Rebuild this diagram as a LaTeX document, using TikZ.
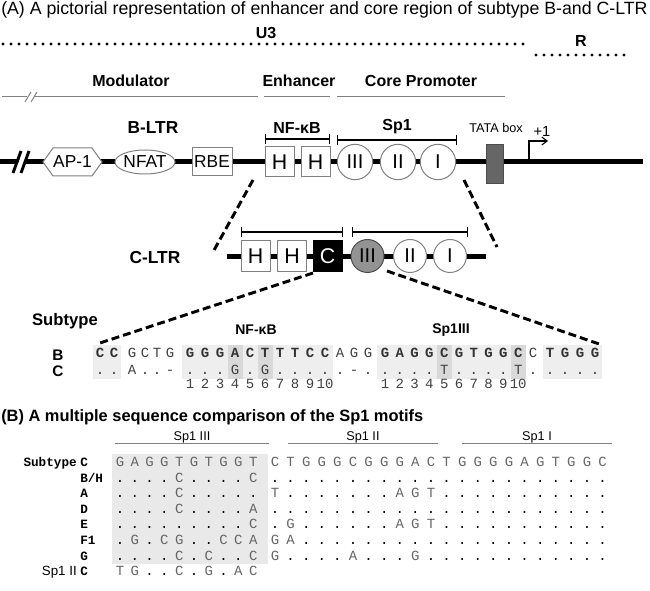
\documentclass[tikz,border=0pt]{standalone}
\usepackage{fontspec}
\setmainfont{Liberation Sans}
\newfontfamily\monofam{Liberation Mono}
\usetikzlibrary{arrows.meta}
\newcommand{\fsz}[1]{\fontsize{#1}{#1}\selectfont}
\def\dotchar{.}
\begin{document}
\begin{tikzpicture}[x=0.75pt,y=-0.75pt,
  every node/.style={inner sep=0pt},
  head/.style={font=\fsz{12}\bfseries},
  outl/.style={draw=gray, line width=0.75pt, fill=white},
  hbox/.style={outl, minimum width=21.75pt, minimum height=22.5pt, font=\fsz{16}},
  sponec/.style={outl, circle, minimum size=26.5pt, font=\fsz{15}},
  dline/.style={line width=2.2pt, dash pattern=on 6pt off 3pt},
  dotl/.style={line width=2.5pt, line cap=round, dash pattern=on 0pt off 6pt},
  brk/.style={line width=0.9pt, {Bar[width=7pt]}-{Bar[width=7pt]}},
  gline/.style={draw=gray, line width=0.75pt},
  sqb/.style={font=\monofam\fsz{10.5}\bfseries, anchor=base, text=black!80},
  sqr/.style={font=\monofam\fsz{10.5}, anchor=base, text=black!75},
  sqB/.style={font=\monofam\fsz{10.5}, anchor=base},
  rlab/.style={font=\monofam\fsz{9.5}\bfseries, anchor=base west},
]
\useasboundingbox (0,0) rectangle (650,591);

% ---------- (A) header ----------
\node[font=\fsz{13.3}, anchor=base west] (titA) at (1,15) {(A) A pictorial representation of enhancer and core region of subtype B-and C-LTR};
\node[head] (u3) at (266,33) {U3};
\node[head] (rr) at (581,41) {R};
\coordinate (d1a) at (3,44); \coordinate (d1b) at (530,44);
\draw[dotl] (d1a) -- (d1b);
\coordinate (d2a) at (536,55); \coordinate (d2b) at (628,55);
\draw[dotl] (d2a) -- (d2b);

\node[head] (mod) at (131,81) {Modulator};
\node[head] (enh) at (299,81) {Enhancer};
\node[head] (core) at (421,81) {Core Promoter};
\draw[gline] (2,97) -- (27,97);
\draw[gline] (35,97) -- (258,97);
\draw[gline] (25,102) -- (31,92);
\draw[gline] (31,102) -- (37,92);
\draw[gline] (264,97) -- (330,97);
\draw[gline] (337,97) -- (505,97);

% ---------- B-LTR ----------
\coordinate (bl0) at (0,162); \coordinate (bl1) at (643,162);
\draw[line width=3.75pt] (bl0) -- (bl1);
\fill[white] (15,172) -- (22,172) -- (29,152) -- (22,152) -- cycle;
\draw[line width=2.2pt] (13,173) -- (21,151);
\draw[line width=2.2pt] (21,173) -- (29,151);

\draw[outl] (43,162) -- (53,148) -- (92,148) -- (102,162) -- (92,176) -- (53,176) -- cycle;
\node[font=\fsz{13}] (ap1) at (72.5,162) {AP-1};
\draw[outl] (145,162) ellipse [x radius=30, y radius=12];
\node[font=\fsz{13}] (nfat) at (145,162) {NFAT};
\node[outl, minimum width=30pt, minimum height=21pt, font=\fsz{13}] (rbe) at (212,162) {RBE};
\node[hbox] (h1) at (279.5,162) {H};
\node[hbox] (h2) at (315.5,162) {H};
\node[sponec] (c3) at (355,162) {III};
\node[sponec] (c2) at (398,162) {II};
\node[sponec] (c1) at (438,162) {I};
\node[draw=black!70, fill=black!60, minimum width=12.75pt, minimum height=29.25pt] (tata) at (494.5,163.5) {};
\coordinate (tss) at (529,162); \coordinate (tsse) at (548,141);
\draw[line width=0.8pt, -{Straight Barb[length=4pt,width=6pt]}] (tss) |- (tsse);

\node[font=\fsz{13}\bfseries] (bltr) at (153,128) {B-LTR};
\node[head] (nfkb) at (297,128) {NF-κB};
\node[head] (sp1) at (397,127) {Sp1};
\node[font=\fsz{9.5}] (tatal) at (496,128) {TATA box};
\node[font=\fsz{11}] (plus1) at (542,131) {+1};
\coordinate (bra) at (265,139); \coordinate (brb) at (330,139);
\draw[brk] (bra) -- (brb);
\coordinate (brc) at (337,140); \coordinate (brd) at (457,140);
\draw[brk] (brc) -- (brd);

% ---------- C-LTR ----------
\coordinate (cl0) at (227,257); \coordinate (cl1) at (486,257);
\draw[line width=3.75pt] (cl0) -- (cl1);
\node[hbox, minimum height=23.25pt] (ch1) at (255.5,256) {H};
\node[hbox, minimum height=23.25pt] (ch2) at (292,256) {H};
\node[draw=black, fill=black, text=white, minimum width=21.75pt, minimum height=23.25pt, font=\fsz{16}] (cc) at (327.5,256) {C};
\node[sponec, fill=gray!85, draw=gray!60!black, minimum size=24.75pt] (cc3) at (367.5,256) {III};
\node[sponec, minimum size=24.75pt] (cc2) at (410,256) {II};
\node[sponec, minimum size=24.75pt] (cc1) at (450,256) {I};
\coordinate (cba) at (241,232); \coordinate (cbb) at (343,232);
\draw[brk] (cba) -- (cbb);
\coordinate (cbc) at (352,232); \coordinate (cbd) at (468,232);
\draw[brk] (cbc) -- (cbd);
\node[font=\fsz{13}\bfseries] (cltr) at (155,258) {C-LTR};

% dashed zoom lines
\coordinate (z1) at (253,180); \coordinate (z2) at (213,252);
\draw[dline] (z1) -- (z2);
\coordinate (z3) at (464,180); \coordinate (z4) at (497,247);
\draw[dline] (z3) -- (z4);
\coordinate (z5) at (313,273); \coordinate (z6) at (100,343);
\draw[dline] (z5) -- (z6);
\coordinate (z7) at (387,271); \coordinate (z8) at (602,345);
\draw[dline] (z7) -- (z8);

% ---------- alignment (A) ----------
\node[font=\fsz{12.5}\bfseries] (subt) at (65,321) {Subtype};
\node[font=\fsz{10.5}\bfseries] (nfk2) at (256,330) {NF-κB};
\node[font=\fsz{10.5}\bfseries] (sp3lab) at (451,330) {Sp1III};
\node[font=\fsz{11.5}\bfseries] (labB) at (58,355) {B};
\node[font=\fsz{11.5}\bfseries] (labC) at (58,371) {C};

\fill[gray!13] (93,345) rectangle (121,379);
\fill[gray!13] (182,345) rectangle (333,379);
\fill[gray!13] (377,345) rectangle (526,379);
\fill[gray!13] (543,345) rectangle (602,379);
\fill[gray!30] (227.5,345) rectangle (242.5,379);
\fill[gray!30] (257.5,345) rectangle (272.5,379);
\fill[gray!30] (436.8,345) rectangle (451.6,379);
\fill[gray!30] (510.8,345) rectangle (525.6,379);

\foreach \xx/\c [count=\i] in {100/C,114/C,190/G,205/G,220/G,235/A,250/C,265/T,280/T,295/T,310/C,325/C,385/G,399.8/A,414.6/G,429.4/G,444.2/C,459/G,473.8/T,488.6/G,503.4/G,518.2/C,550/T,565/G,580/G,595/G}
  \node[sqb] (bb\i) at (\xx,358) {\c};
\foreach \xx/\c [count=\i] in {132/G,145/C,157/T,170/G,340/A,354/G,368/G,533/C}
  \node[sqr] (br\i) at (\xx,358) {\c};
\foreach \xx/\c [count=\i] in {100/.,114/.,132/A,145/.,157/.,170/-,190/.,205/.,220/.,235/G,250/.,265/G,280/.,295/.,310/.,325/.,340/.,354/-,368/.,385/.,399.8/.,414.6/.,429.4/.,444.2/T,459/.,473.8/.,488.6/.,503.4/.,518.2/T,533/.,550/.,565/.,580/.,595/.}
  \node[sqr] (cr\i) at (\xx,374.5) {\c};
\foreach \k in {1,...,10} {
  \pgfmathsetmacro\xa{190+15*(\k-1)}
  \pgfmathsetmacro\xb{385+14.8*(\k-1)}
  \node[sqr] (na\k) at (\xa,389) {\k};
  \node[sqr] (nb\k) at (\xb,389) {\k};
}

% ---------- (B) ----------
\node[font=\fsz{12.3}\bfseries, anchor=base west] (titB) at (1,422) {(B) A multiple sequence comparison of the Sp1 motifs};
\node[font=\fsz{9.5}] (s3) at (192,437) {Sp1 III};
\node[font=\fsz{9.5}] (s2) at (363,437) {Sp1 II};
\node[font=\fsz{9.5}] (s1) at (537,437) {Sp1 I};
\draw[gline] (115,444) -- (269,444);
\draw[gline] (288,444) -- (438,444);
\draw[gline] (462,444) -- (612,444);
\fill[gray!17] (112,454) rectangle (268,564);

\newcommand{\seqrow}[3]{%
  \foreach \c [count=\i from 0] in {#2} {
    \pgfmathsetmacro\xx{\i<10 ? 120+14.8*\i : 275+15.6*(\i-10)}
    \ifx\c\dotchar
      \node[sqB] (#3\i) at (\xx,#1) {\c};
    \else
      \node[sqB, text=black!60] (#3\i) at (\xx,#1) {\c};
    \fi
  }}
\seqrow{466.5}{G,A,G,G,T,G,T,G,G,T,C,T,G,G,G,C,G,G,G,A,C,T,G,G,G,G,A,G,T,G,G,C}{ra}
\seqrow{482.1}{.,.,.,.,C,.,.,.,.,C,.,.,.,.,.,.,.,.,.,.,.,.,.,.,.,.,.,.,.,.,.,.}{rb}
\seqrow{497.7}{.,.,.,.,C,.,.,.,.,.,T,.,.,.,.,.,.,.,A,G,T,.,.,.,.,.,.,.,.,.,.,.}{rc}
\seqrow{513.3}{.,.,.,.,C,.,.,.,.,A,.,.,.,.,.,.,.,.,.,.,.,.,.,.,.,.,.,.,.,.,.,.}{rd}
\seqrow{528.9}{.,.,.,.,.,.,.,.,.,C,.,G,.,.,.,.,.,.,A,G,T,.,.,.,.,.,.,.,.,.,.,.}{re}
\seqrow{544.5}{.,G,.,C,G,.,.,C,C,A,G,A,.,.,.,.,.,.,.,.,.,.,.,.,.,.,.,.,.,.,.,.}{rf}
\seqrow{560.1}{.,.,.,.,C,.,C,.,.,C,G,.,.,.,.,A,.,.,.,G,.,.,.,.,.,.,.,.,.,.,.,.}{rg}
\seqrow{575.7}{T,G,.,.,C,.,G,.,A,C}{rh}

\node[rlab, anchor=base east] (lsub) at (77,466.5) {Subtype};
\node[rlab] (l0) at (80,466.5) {C};
\node[rlab] (l1) at (80,482.1) {B/H};
\node[rlab] (l2) at (80,497.7) {A};
\node[rlab] (l3) at (80,513.3) {D};
\node[rlab] (l4) at (80,528.9) {E};
\node[rlab] (l5) at (80,544.5) {F1};
\node[rlab] (l6) at (80,560.1) {G};
\node[font=\fsz{10}, anchor=base east] (lsp) at (77,575.7) {Sp1 II};
\node[rlab] (l7) at (80,575.7) {C};
\end{tikzpicture}
\end{document}
